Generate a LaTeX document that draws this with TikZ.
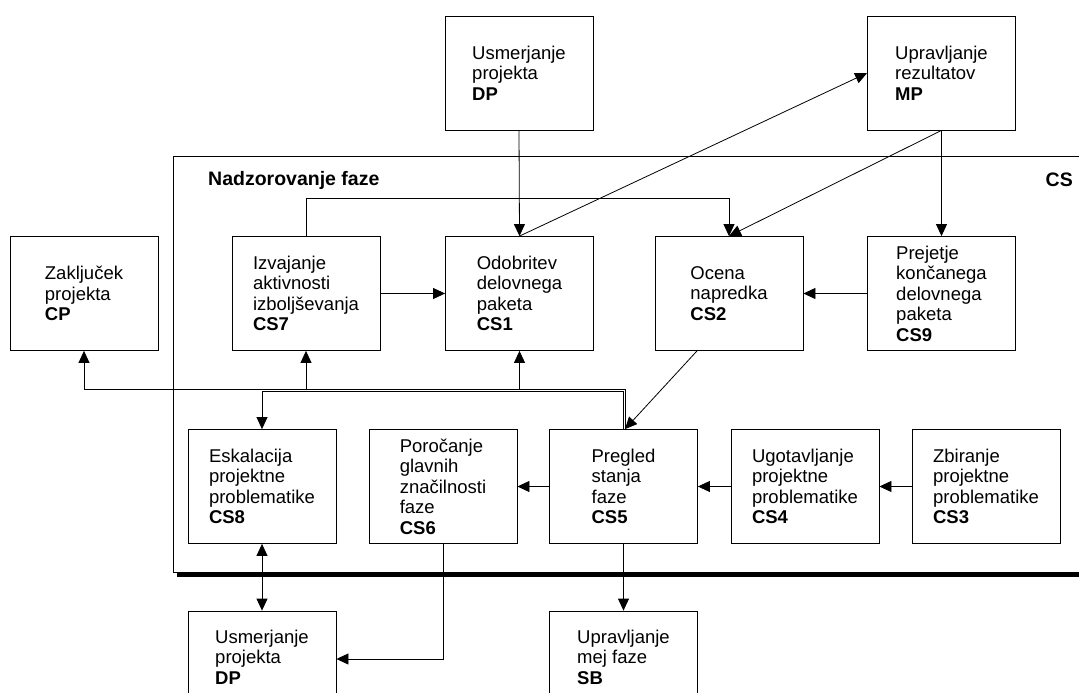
\documentclass[tikz,border=0pt]{standalone}
\usepackage{fontspec}
\setmainfont{Liberation Sans}
\usetikzlibrary{arrows.meta}
\begin{document}
\begin{tikzpicture}[x=1pt,y=-1pt,
  box/.style={draw, line width=0.8pt, rectangle, minimum width=148pt,
    minimum height=114pt, align=left, inner sep=0pt,
    font=\fontsize{18.5}{20.5}\selectfont},
  lowbox/.style={box, minimum height=92pt},
  conn/.style={line width=0.8pt, -{Triangle[length=12pt,width=11pt]}},
  twoway/.style={line width=0.8pt,
    {Triangle[length=12pt,width=11pt]}-{Triangle[length=12pt,width=11pt]}},
  heading/.style={font=\bfseries\fontsize{19.5}{21}\selectfont, inner sep=0pt}]
\useasboundingbox (0,0) rectangle (1079,693);
\clip (0,0) rectangle (1079,693);

% phase frame and its heavy lower edge
\draw[line width=0.8pt] (1100,156) -- (173,156) -- (173,572) -- (1100,572);
\draw[line width=4pt] (177,575) -- (1100,575);
\node[heading, anchor=west] (title) at (208,180) {Nadzorovanje faze};
\node[heading, anchor=east] (cslabel) at (1073,180) {CS};

% outside processes
\node[box] (dpt) at (519,73)    {Usmerjanje\\projekta\\\textbf{DP}};
\node[box] (mp)  at (941.5,73)  {Upravljanje\\rezultatov\\\textbf{MP}};
\node[box] (cp)  at (84,293.5)  {Zaključek\\projekta\\\textbf{CP}};

% upper row of activities
\node[box] (cs7) at (306,293.5)   {Izvajanje\\aktivnosti\\izboljševanja\\\textbf{CS7}};
\node[box] (cs1) at (519.5,293.5) {Odobritev\\delovnega\\paketa\\\textbf{CS1}};
\node[box] (cs2) at (729,293.5)   {Ocena\\napredka\\\textbf{CS2}};
\node[box] (cs9) at (941.5,293.5) {Prejetje\\končanega\\delovnega\\paketa\\\textbf{CS9}};

% lower row of activities
\node[box] (cs8) at (262,486.5)   {Eskalacija\\projektne\\problematike\\\textbf{CS8}};
\node[box] (cs6) at (443,486.5)   {Poročanje\\glavnih\\značilnosti\\faze\\\textbf{CS6}};
\node[box] (cs5) at (623.5,486.5) {Pregled\\stanja\\faze\\\textbf{CS5}};
\node[box] (cs4) at (805,486.5)   {Ugotavljanje\\projektne\\problematike\\\textbf{CS4}};
\node[box] (cs3) at (986,486.5)   {Zbiranje\\projektne\\problematike\\\textbf{CS3}};

% processes below the phase
\node[lowbox] (dpb) at (262,657)   {Usmerjanje\\projekta\\\textbf{DP}};
\node[lowbox] (sb)  at (623.5,657) {Upravljanje\\mej faze\\\textbf{SB}};

% connectors
\draw[conn] (dpt.south) -- (cs1.north);
\draw[conn] (cs1.north) -- (mp.west);
\draw[conn] (mp.south) -- (cs9.north);
\draw[conn] (mp.south) -- (cs2.north);
\draw[conn] (cs7.north) -- ++(0,-38) -| (cs2.north);
\draw[conn] (cs7) -- (cs1);
\draw[conn] (cs9) -- (cs2);
\draw[conn] ([xshift=-32pt]cs2.south) -- ([xshift=1.5pt]cs5.north);

% feedback bus from the phase review
\draw[conn] ([xshift=1.5pt]cs5.north) -- ++(0,-40) coordinate (busA) -| (cp.south);
\draw[conn] (cs7.south |- busA) -- (cs7.south);
\draw[conn] (cs1.south |- busA) -- (cs1.south);
\draw[conn] ([xshift=-0.5pt]cs5.north) -- ++(0,-38) -| (cs8.north);

\draw[conn] (cs3) -- (cs4);
\draw[conn] (cs4) -- (cs5);
\draw[conn] (cs5) -- (cs6);
\draw[twoway] (cs8) -- (dpb);
\draw[conn] (cs6.south) |- ([yshift=-2pt]dpb.east);
\draw[conn] (cs5) -- (sb);
\end{tikzpicture}
\end{document}
